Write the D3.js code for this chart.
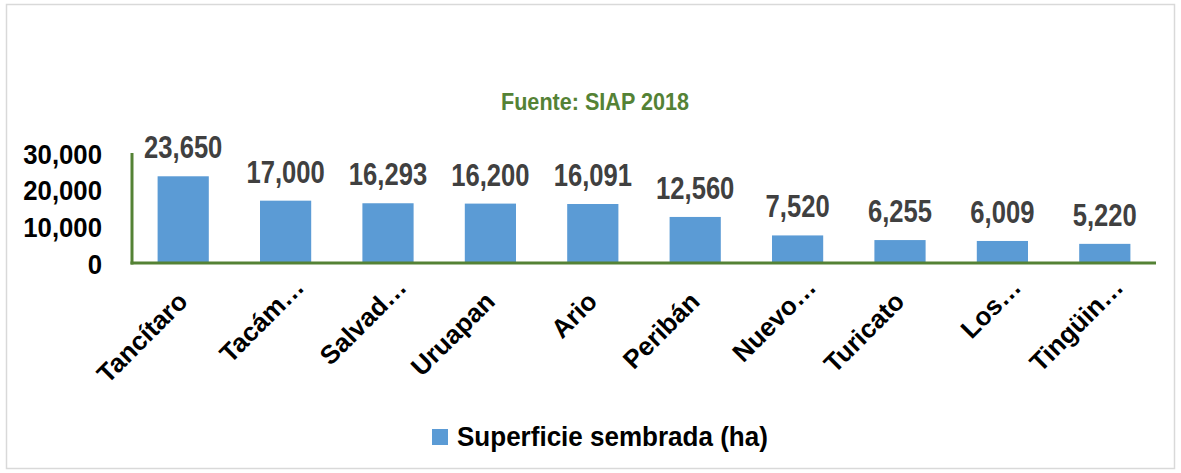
<!DOCTYPE html>
<html>
<head>
<meta charset="utf-8">
<script src="https://cdn.jsdelivr.net/npm/d3@7"></script>
<style>
  html, body { margin: 0; padding: 0; background: #ffffff; }
  svg { display: block; }
  text { font-family: "Liberation Sans", Arial, sans-serif; font-weight: bold; }
</style>
</head>
<body>
<svg id="chart" width="1181" height="473"></svg>
<script>
const categories = ["Tancítaro", "Tacám…", "Salvad…", "Uruapan", "Ario", "Peribán", "Nuevo…", "Turicato", "Los…", "Tingüin…"];
const values = [23650, 17000, 16293, 16200, 16091, 12560, 7520, 6255, 6009, 5220];
const yTicks = [0, 10000, 20000, 30000];
const seriesName = "Superficie sembrada (ha)";
const sourceText = "Fuente: SIAP 2018";

const W = 1181, H = 473;
const svg = d3.select("#chart");
const fmt = d3.format(",");

const barColor = "#5B9BD5";
const axisGreen = "#548235";

// outer border
svg.append("rect")
  .attr("x", 6.5).attr("y", 4.5).attr("width", 1168).attr("height", 464)
  .attr("fill", "#ffffff").attr("stroke", "#d9d9d9").attr("stroke-width", 1.5);

const x = d3.scaleBand().domain(categories).range([132, 1156]).paddingInner(0.5).paddingOuter(0.25);
const y = d3.scaleLinear().domain([0, 30000]).range([263, 153]);

// title / source
svg.append("text")
  .attr("transform", "translate(595,110) scale(0.9,1)")
  .attr("text-anchor", "middle")
  .attr("font-size", 24)
  .attr("fill", axisGreen)
  .text(sourceText);

// bars
svg.append("g").selectAll("rect")
  .data(values)
  .join("rect")
  .attr("x", (d, i) => x(categories[i]))
  .attr("width", x.bandwidth())
  .attr("y", d => y(d))
  .attr("height", d => y(0) - y(d))
  .attr("fill", barColor);

// value labels
svg.append("g").selectAll("text")
  .data(values)
  .join("text")
  .attr("transform", (d, i) => `translate(${x(categories[i]) + x.bandwidth() / 2},${y(d) - 18}) scale(0.8,1)`)
  .attr("text-anchor", "middle")
  .attr("font-size", 32)
  .attr("fill", "#404040")
  .text(d => fmt(d));

// y axis tick labels
const yAxis = d3.axisLeft(y).tickValues(yTicks).tickFormat(fmt).tickSize(0).tickPadding(0);
const yg = svg.append("g").attr("transform", "translate(102,0)").call(yAxis);
yg.select(".domain").remove();
yg.selectAll("text")
  .attr("x", null).attr("dy", null)
  .attr("y", 10)
  .attr("transform", "scale(0.92,1)")
  .attr("font-size", 28)
  .attr("font-family", null)
  .attr("fill", "#000000");

// axis lines
svg.append("line")
  .attr("x1", 132).attr("x2", 132)
  .attr("y1", y(30000)).attr("y2", y(0) + 1.5)
  .attr("stroke", axisGreen).attr("stroke-width", 3);
svg.append("line")
  .attr("x1", 130.5).attr("x2", 1156)
  .attr("y1", y(0)).attr("y2", y(0))
  .attr("stroke", axisGreen).attr("stroke-width", 3);

// category labels
const xAxis = d3.axisBottom(x).tickSize(0).tickPadding(0);
const xg = svg.append("g").attr("transform", "translate(0,0)").call(xAxis);
xg.select(".domain").remove();
xg.selectAll(".tick").attr("transform", null);
xg.selectAll(".tick text")
  .attr("y", null).attr("dy", null)
  .attr("font-family", null)
  .attr("font-size", 26)
  .attr("fill", "#000000")
  .attr("text-anchor", "end")
  .attr("transform", d => {
    const cx = x(d) + x.bandwidth() / 2 + 6;
    const shift = d.endsWith("…") ? 20 : 0;
    const bx = cx + shift * Math.SQRT1_2;
    const by = 303 - shift * Math.SQRT1_2;
    return `translate(${bx},${by}) rotate(-45)`;
  });

// legend
const lg = svg.append("g");
lg.append("rect")
  .attr("x", 432).attr("y", 429).attr("width", 16).attr("height", 16)
  .attr("fill", barColor);
lg.append("text")
  .attr("transform", "translate(457,446) scale(0.93,1)")
  .attr("font-size", 28)
  .attr("fill", "#000000")
  .text(seriesName);
</script>
</body>
</html>
